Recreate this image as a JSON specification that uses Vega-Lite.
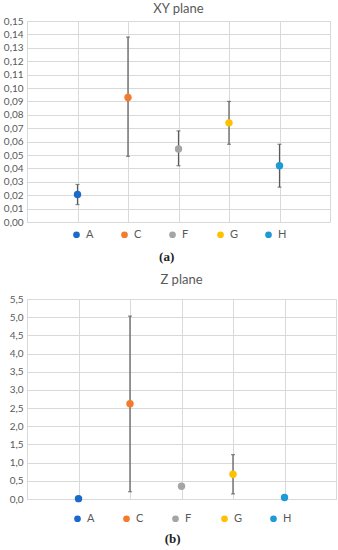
{
  "$schema": "https://vega.github.io/schema/vega-lite/v6.json",
  "background": "white",
  "padding": {"left": 2, "top": 2, "right": 5, "bottom": 2},
  "config": {
    "locale": {"number": {"decimal": ",", "thousands": ".", "grouping": [3], "currency": ["", " €"]}},
    "view": {"stroke": "#D9D9D9", "strokeWidth": 1},
    "font": "Lato",
    "axis": {"domain": false, "ticks": false, "gridColor": "#D9D9D9", "gridWidth": 1, "labelColor": "#595959", "labelFontSize": 10, "labelFont": "Lato", "labelPadding": 4, "labelOverlap": false},
    "legend": {"layout": {"bottom": {"anchor": "middle"}}},
    "concat": {"spacing": 10}
  },
  "datasets": {
    "xy": [
      {"cat": "A", "value": 0.0205, "lo": 0.013, "hi": 0.028},
      {"cat": "C", "value": 0.093, "lo": 0.049, "hi": 0.138},
      {"cat": "F", "value": 0.0545, "lo": 0.042, "hi": 0.068},
      {"cat": "G", "value": 0.074, "lo": 0.058, "hi": 0.090},
      {"cat": "H", "value": 0.042, "lo": 0.026, "hi": 0.058}
    ],
    "z": [
      {"cat": "A", "value": 0.01, "lo": null, "hi": null},
      {"cat": "C", "value": 2.62, "lo": 0.2, "hi": 5.03},
      {"cat": "F", "value": 0.35, "lo": null, "hi": null},
      {"cat": "G", "value": 0.68, "lo": 0.14, "hi": 1.22},
      {"cat": "H", "value": 0.04, "lo": null, "hi": null}
    ]
  },
  "vconcat": [
    {
      "title": {"text": "(a)", "orient": "bottom", "anchor": "middle", "font": "Liberation Serif", "fontWeight": "bold", "fontSize": 13, "color": "#222222", "offset": 10},
      "resolve": {"scale": {"color": "independent"}, "legend": {"color": "independent"}},
      "vconcat": [
        {
          "title": {"text": "XY plane", "anchor": "middle", "frame": "group", "fontSize": 13, "fontWeight": "normal", "color": "#595959", "font": "Lato", "offset": 0},
          "width": 303,
          "height": 201,
          "data": {"name": "xy"},
          "encoding": {
            "x": {"field": "cat", "type": "ordinal", "scale": {"type": "point", "padding": 1}, "axis": {"labels": false, "grid": true, "title": null}}
          },
          "layer": [
            {
              "mark": {"type": "rule", "color": "#595959", "strokeWidth": 1.2},
              "encoding": {
                "y": {"field": "lo", "type": "quantitative", "scale": {"domain": [0, 0.15], "nice": false, "zero": false}, "axis": {"format": ".2f", "values": [0, 0.01, 0.02, 0.03, 0.04, 0.05, 0.06, 0.07, 0.08, 0.09, 0.1, 0.11, 0.12, 0.13, 0.14, 0.15], "title": null}},
                "y2": {"field": "hi"}
              }
            },
            {
              "mark": {"type": "tick", "color": "#595959", "size": 4, "thickness": 1.2},
              "encoding": {"y": {"field": "lo", "type": "quantitative", "scale": {"domain": [0, 0.15], "nice": false, "zero": false}, "axis": {"format": ".2f", "values": [0, 0.01, 0.02, 0.03, 0.04, 0.05, 0.06, 0.07, 0.08, 0.09, 0.1, 0.11, 0.12, 0.13, 0.14, 0.15], "title": null}}}
            },
            {
              "mark": {"type": "tick", "color": "#595959", "size": 4, "thickness": 1.2},
              "encoding": {"y": {"field": "hi", "type": "quantitative", "scale": {"domain": [0, 0.15], "nice": false, "zero": false}, "axis": {"format": ".2f", "values": [0, 0.01, 0.02, 0.03, 0.04, 0.05, 0.06, 0.07, 0.08, 0.09, 0.1, 0.11, 0.12, 0.13, 0.14, 0.15], "title": null}}}
            },
            {
              "mark": {"type": "circle", "size": 55, "opacity": 1},
              "encoding": {
                "y": {"field": "value", "type": "quantitative", "scale": {"domain": [0, 0.15], "nice": false, "zero": false}, "axis": {"format": ".2f", "values": [0, 0.01, 0.02, 0.03, 0.04, 0.05, 0.06, 0.07, 0.08, 0.09, 0.1, 0.11, 0.12, 0.13, 0.14, 0.15], "title": null}},
                "color": {"field": "cat", "type": "nominal", "scale": {"domain": ["A", "C", "F", "G", "H"], "range": ["#1A6BC9", "#F47B2B", "#A5A5A5", "#FFC000", "#1E9BD7"]},
                  "legend": {"orient": "bottom", "direction": "horizontal", "title": null, "symbolType": "circle", "symbolSize": 45, "labelFontSize": 11, "labelColor": "#595959", "labelFont": "Lato", "columnPadding": 24, "offset": 7, "gridAlign": "all"}}
              }
            }
          ]
        }
      ]
    },
    {
      "title": {"text": "(b)", "orient": "bottom", "anchor": "middle", "font": "Liberation Serif", "fontWeight": "bold", "fontSize": 13, "color": "#222222", "offset": 8},
      "resolve": {"scale": {"color": "independent"}, "legend": {"color": "independent"}},
      "vconcat": [
        {
          "title": {"text": "Z plane", "anchor": "middle", "fontSize": 13, "fontWeight": "normal", "color": "#595959", "font": "Lato", "offset": 7},
          "width": 309,
          "height": 200,
          "data": {"name": "z"},
          "encoding": {
            "x": {"field": "cat", "type": "ordinal", "scale": {"type": "point", "padding": 1}, "axis": {"labels": false, "grid": true, "title": null}}
          },
          "layer": [
            {
              "mark": {"type": "rule", "color": "#595959", "strokeWidth": 1.2},
              "encoding": {
                "y": {"field": "lo", "type": "quantitative", "scale": {"domain": [0, 5.5], "nice": false, "zero": false}, "axis": {"format": ".1f", "values": [0, 0.5, 1, 1.5, 2, 2.5, 3, 3.5, 4, 4.5, 5, 5.5], "title": null}},
                "y2": {"field": "hi"}
              }
            },
            {
              "mark": {"type": "tick", "color": "#595959", "size": 4, "thickness": 1.2},
              "encoding": {"y": {"field": "lo", "type": "quantitative", "scale": {"domain": [0, 5.5], "nice": false, "zero": false}, "axis": {"format": ".1f", "values": [0, 0.5, 1, 1.5, 2, 2.5, 3, 3.5, 4, 4.5, 5, 5.5], "title": null}}}
            },
            {
              "mark": {"type": "tick", "color": "#595959", "size": 4, "thickness": 1.2},
              "encoding": {"y": {"field": "hi", "type": "quantitative", "scale": {"domain": [0, 5.5], "nice": false, "zero": false}, "axis": {"format": ".1f", "values": [0, 0.5, 1, 1.5, 2, 2.5, 3, 3.5, 4, 4.5, 5, 5.5], "title": null}}}
            },
            {
              "mark": {"type": "circle", "size": 55, "opacity": 1},
              "encoding": {
                "y": {"field": "value", "type": "quantitative", "scale": {"domain": [0, 5.5], "nice": false, "zero": false}, "axis": {"format": ".1f", "values": [0, 0.5, 1, 1.5, 2, 2.5, 3, 3.5, 4, 4.5, 5, 5.5], "title": null}},
                "color": {"field": "cat", "type": "nominal", "scale": {"domain": ["A", "C", "F", "G", "H"], "range": ["#1A6BC9", "#F47B2B", "#A5A5A5", "#FFC000", "#1E9BD7"]},
                  "legend": {"orient": "bottom", "direction": "horizontal", "title": null, "symbolType": "circle", "symbolSize": 45, "labelFontSize": 11, "labelColor": "#595959", "labelFont": "Lato", "columnPadding": 25, "offset": 14, "gridAlign": "all"}}
              }
            }
          ]
        }
      ]
    }
  ],
  "spacing": 9,
  "align": "none"
}
